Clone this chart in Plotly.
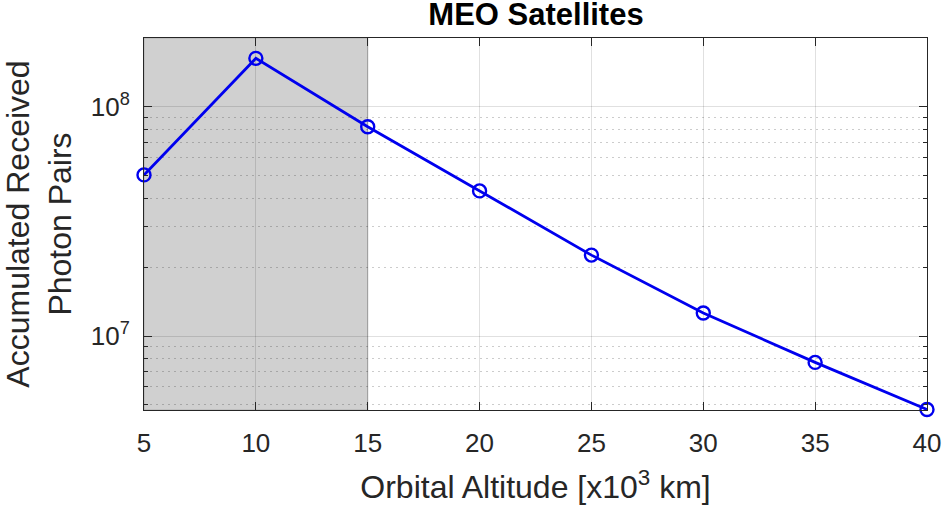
import plotly.graph_objects as go

altitude = [5, 10, 15, 20, 25, 30, 35, 40]
photon_pairs = [5.05e7, 1.63e8, 8.2e7, 4.30e7, 2.255e7, 1.26e7, 7.67e6, 4.78e6]
shade_range = [5, 15]
x_ticks = [5, 10, 15, 20, 25, 30, 35, 40]
y_ticks = [1e7, 1e8]
y_ticktext = ["10<sup>7</sup>", "10<sup>8</sup>"]
y_minor = [k * 10**e for e in (6, 7, 8) for k in range(2, 10)]

font_family = "Liberation Sans, Arial, sans-serif"
axis_col = "#262626"
tick_size = 26
label_size = 32

fig = go.Figure()
fig.add_trace(go.Scatter(
    x=altitude, y=photon_pairs, mode="lines+markers",
    line=dict(color="#0000ee", width=2.8),
    marker=dict(symbol="circle-open", size=13, color="#0000ee", line=dict(width=2.4)),
    showlegend=False, cliponaxis=False,
))

fig.add_shape(type="rect", xref="x", yref="paper",
              x0=shade_range[0], x1=shade_range[1], y0=0, y1=1,
              fillcolor="rgb(208,208,208)", line=dict(color="rgb(175,175,175)", width=1),
              layer="below")

fig.update_layout(
    width=948, height=513,
    margin=dict(l=144, r=21, t=38, b=103),
    paper_bgcolor="white", plot_bgcolor="white",
    font=dict(family=font_family, color=axis_col),
    title=dict(text="<b>MEO Satellites</b>", x=536 / 948, xanchor="center", xref="container",
               yref="container", y=1 - 3 / 513, yanchor="top",
               font=dict(size=31, color="black")),
)

fig.update_xaxes(
    range=[5, 40], tickvals=x_ticks, ticks="inside", ticklen=8, tickcolor=axis_col,
    showline=True, linecolor=axis_col, linewidth=1, mirror="ticks",
    showgrid=True, gridcolor="rgba(0,0,0,0.12)", gridwidth=1,
    tickfont=dict(size=tick_size, color=axis_col), zeroline=False, automargin=False,
    ticklabelstandoff=10,
    title=dict(text="Orbital Altitude [x10<sup>3</sup> km]", font=dict(size=label_size, color=axis_col), standoff=18),
)
fig.update_yaxes(
    type="log", range=[6.677, 8.301], tickvals=y_ticks, ticktext=y_ticktext,
    ticks="inside", ticklen=8, tickcolor=axis_col,
    showline=True, linecolor=axis_col, linewidth=1, mirror="ticks",
    showgrid=True, gridcolor="rgba(0,0,0,0.12)", gridwidth=1,
    tickfont=dict(size=tick_size, color=axis_col), zeroline=False, automargin=False,
    ticklabelstandoff=8,
    minor=dict(tickvals=y_minor, ticks="inside", ticklen=4, tickcolor=axis_col,
               showgrid=True, gridcolor="rgba(0,0,0,0.2)", griddash="2px,4px", gridwidth=1),
    title=dict(text="Accumulated Received<br>Photon Pairs", font=dict(size=label_size, color=axis_col), standoff=10),
)

fig.write_html("out.html")
